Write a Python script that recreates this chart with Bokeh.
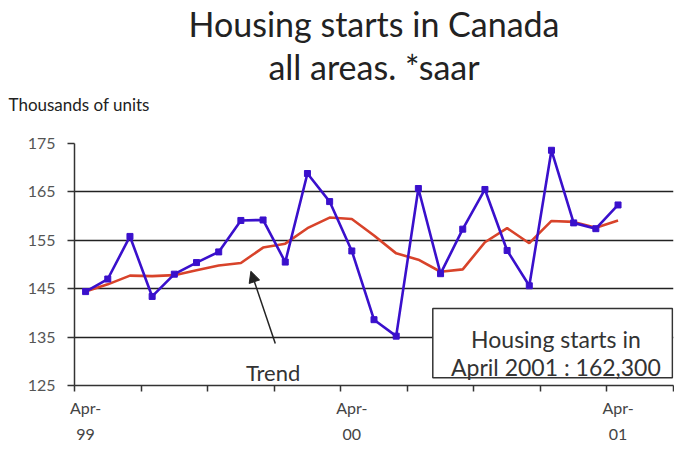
from bokeh.plotting import figure
from bokeh.models import (FixedTicker, Title, Label, Arrow, NormalHead, BoxAnnotation, Range1d,
                          LinearAxis)
from bokeh.embed import file_html
from bokeh.resources import INLINE

# Monthly housing starts (thousands of units, saar), Apr-99 .. Apr-01
months = ["Apr-99", "May-99", "Jun-99", "Jul-99", "Aug-99", "Sep-99", "Oct-99", "Nov-99",
          "Dec-99", "Jan-00", "Feb-00", "Mar-00", "Apr-00", "May-00", "Jun-00", "Jul-00",
          "Aug-00", "Sep-00", "Oct-00", "Nov-00", "Dec-00", "Jan-01", "Feb-01", "Mar-01", "Apr-01"]
starts = [144.4, 147.0, 155.8, 143.4, 148.0, 150.4, 152.6, 159.1, 159.2, 150.5, 168.8, 163.0,
          152.8, 138.6, 135.2, 165.7, 148.1, 157.3, 165.5, 152.9, 145.6, 173.6, 158.6, 157.4, 162.3]
trend = [144.4, 145.9, 147.7, 147.6, 147.8, 148.8, 149.8, 150.3, 153.5, 154.3, 157.5, 159.7,
         159.4, 156.0, 152.3, 151.0, 148.5, 149.0, 154.6, 157.5, 154.4, 159.0, 158.8, 157.6, 159.1]
n_slots = 27
x_labels = {0: "Apr-\n99", 12: "Apr-\n00", 24: "Apr-\n01"}
y_ticks = [125, 135, 145, 155, 165, 175]

xs = [i + 0.5 for i in range(len(months))]

FONT = "Lato"
DARK = "#333333"

p = figure(width=674, height=446, x_range=Range1d(0, n_slots), y_range=Range1d(125, 175),
           output_backend="svg", toolbar_location=None, title=None,
           min_border_left=74, min_border_right=1, min_border_bottom=58, min_border_top=10)
p.outline_line_color = None
p.background_fill_color = "white"
xaxis = p.below[0]
yaxis = p.left[0]

# invisible spacer between the unit caption and the plot frame
spacer = LinearAxis(ticker=FixedTicker(ticks=[0]), major_label_overrides={0: ""},
                    axis_line_color=None, major_tick_line_color=None, minor_tick_line_color=None,
                    major_tick_out=24, minor_tick_out=0, major_tick_in=0, minor_tick_in=0,
                    major_label_standoff=0, major_label_text_font_size="1px")
p.add_layout(spacer, "above")

# titles (added closest-first)
p.add_layout(Title(text="Thousands of units", align="left", offset=-66, text_font=FONT,
                   text_font_size="17px", text_font_style="normal", text_color="#222222",
                   standoff=10), "above")
p.add_layout(Title(text="all areas. *saar", align="center", offset=-16, text_font=FONT,
                   text_font_size="34px", text_font_style="normal", text_color="#222222",
                   standoff=0), "above")
p.add_layout(Title(text="Housing starts in Canada", align="center", offset=-16, text_font=FONT,
                   text_font_size="34px", text_font_style="normal", text_color="#222222",
                   standoff=0), "above")

# axes
xaxis.ticker = FixedTicker(ticks=[k + 0.5 for k in x_labels],
                           minor_ticks=list(range(0, n_slots + 1, 3)))
xaxis.major_label_overrides = {k + 0.5: v for k, v in x_labels.items()}
xaxis.major_tick_out = 0
xaxis.major_tick_in = 0
xaxis.minor_tick_out = 6
xaxis.minor_tick_in = 0
xaxis.minor_tick_line_color = DARK
xaxis.minor_tick_line_width = 1.5
xaxis.axis_line_color = DARK
xaxis.axis_line_width = 1.5
xaxis.major_label_text_font = FONT
xaxis.major_label_text_font_size = "16px"
xaxis.major_label_text_color = "#444444"
xaxis.major_label_text_line_height = 1.4
xaxis.major_label_standoff = 6

yaxis.ticker = FixedTicker(ticks=y_ticks)
yaxis.major_tick_out = 7
yaxis.major_tick_in = 0
yaxis.minor_tick_out = 0
yaxis.minor_tick_in = 0
yaxis.major_tick_line_color = DARK
yaxis.major_tick_line_width = 1.5
yaxis.axis_line_color = DARK
yaxis.axis_line_width = 1.5
yaxis.major_label_text_font = FONT
yaxis.major_label_text_font_size = "16px"
yaxis.major_label_text_color = "#555555"
yaxis.major_label_standoff = 12

p.xgrid.visible = False
p.ygrid.ticker = FixedTicker(ticks=y_ticks[1:-1])
p.ygrid.grid_line_color = "#222222"
p.ygrid.grid_line_width = 1.5

# series
p.line(xs, trend, line_color="#d8432a", line_width=2.6)
p.line(xs, starts, line_color="#3a10cc", line_width=2.6)
p.scatter(xs, starts, marker="square", size=6, fill_color="#3a10cc", line_color="#3a10cc")

# trend annotation
p.add_layout(Arrow(end=NormalHead(size=11, fill_color="#222222", line_color="#222222"),
                   x_start=9.05, y_start=133.7, x_end=7.95, y_end=148.6,
                   line_color="#222222", line_width=1.5))
p.add_layout(Label(x=8.95, y=127.6, text="Trend", text_align="center", text_baseline="alphabetic",
                   text_font=FONT, text_font_size="22px", text_color="#333333"))

# info box
p.add_layout(BoxAnnotation(left=16.15, right=n_slots - 0.05, bottom=126.6, top=140.9,
                           fill_color="white", fill_alpha=1.0, line_color=DARK,
                           line_width=1.5, line_alpha=1.0))
p.add_layout(Label(x=21.7, y=134.7, text="Housing starts in", text_align="center",
                   text_baseline="alphabetic", text_font=FONT, text_font_size="23px",
                   text_color="#333333"))
p.add_layout(Label(x=21.7, y=128.9, text="April 2001 : 162,300", text_align="center",
                   text_baseline="alphabetic", text_font=FONT, text_font_size="23px",
                   text_color="#333333"))

open("out.html", "w").write(file_html(p, INLINE))
